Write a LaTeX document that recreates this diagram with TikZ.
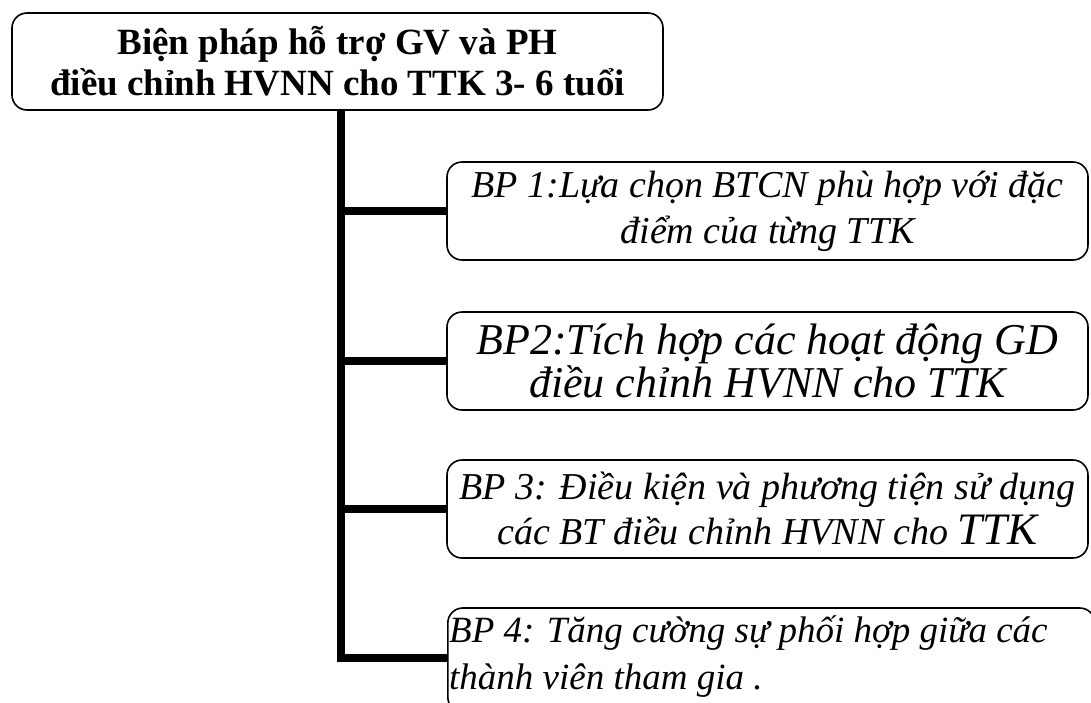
\documentclass[tikz,border=0pt]{standalone}
\usepackage{fontspec}
\setmainfont{Liberation Serif}
\tikzset{
    headbox/.style={draw, rounded corners=15pt, line width=1.6pt, align=center,
        minimum width=651pt, minimum height=97pt, inner sep=0pt,
        font=\bfseries\fontsize{37}{41}\selectfont},
    bpbox/.style={draw, rounded corners=15pt, line width=1.6pt, align=center,
        minimum width=641pt, minimum height=98pt, inner sep=0pt,
        font=\itshape\fontsize{38}{46}\selectfont},
    trunk/.style={line width=8pt}
}

\begin{document}
\begin{tikzpicture}[x=1pt, y=-1pt]
    \useasboundingbox (0,0) rectangle (1091,702);
    % Draw the main box
    \node[headbox] (head) at (337.5,61.5)
        {Biện pháp hỗ trợ GV và PH\\điều chỉnh HVNN cho TTK 3- 6 tuổi};
    % Draw the four measures
    \node[bpbox] (bp1) at (767.5,211)
        {BP 1:Lựa chọn BTCN phù hợp với đặc\\điểm của từng TTK};
    \node[bpbox, font=\itshape\fontsize{44}{43}\selectfont] (bp2) at (767.5,361)
        {BP2:Tích hợp các hoạt động GD\\điều chỉnh HVNN cho TTK};
    \node[bpbox, font=\itshape\fontsize{38}{45}\selectfont] (bp3) at (767.5,509)
        {BP 3: Điều kiện và phương tiện sử dụng\\các BT điều chỉnh HVNN cho {\fontsize{45}{45}\selectfont TTK}};
    % last box runs off the bottom, text flush left against the border
    \node[bpbox, minimum width=647pt, minimum height=104pt, anchor=west] (bp4) at (447,660) {};
    \node[anchor=west, align=left, inner sep=0pt, font=\itshape\fontsize{37}{47}\selectfont]
        (bp4text) at ([xshift=2pt,yshift=3pt]bp4.west)
        {BP 4: Tăng cường sự phối hợp giữa các\\thành viên tham gia .};
    % Draw the trunk and the branches
    \coordinate (top) at (341,110);
    \coordinate (bend) at (341,658);
    \draw[trunk] (top) -- (bend) -- (bend -| bp4.west);
    \draw[trunk] (top |- bp1.west) -- (bp1.west);
    \draw[trunk] (top |- bp2.west) -- (bp2.west);
    \draw[trunk] (top |- bp3.west) -- (bp3.west);
\end{tikzpicture}
\end{document}
